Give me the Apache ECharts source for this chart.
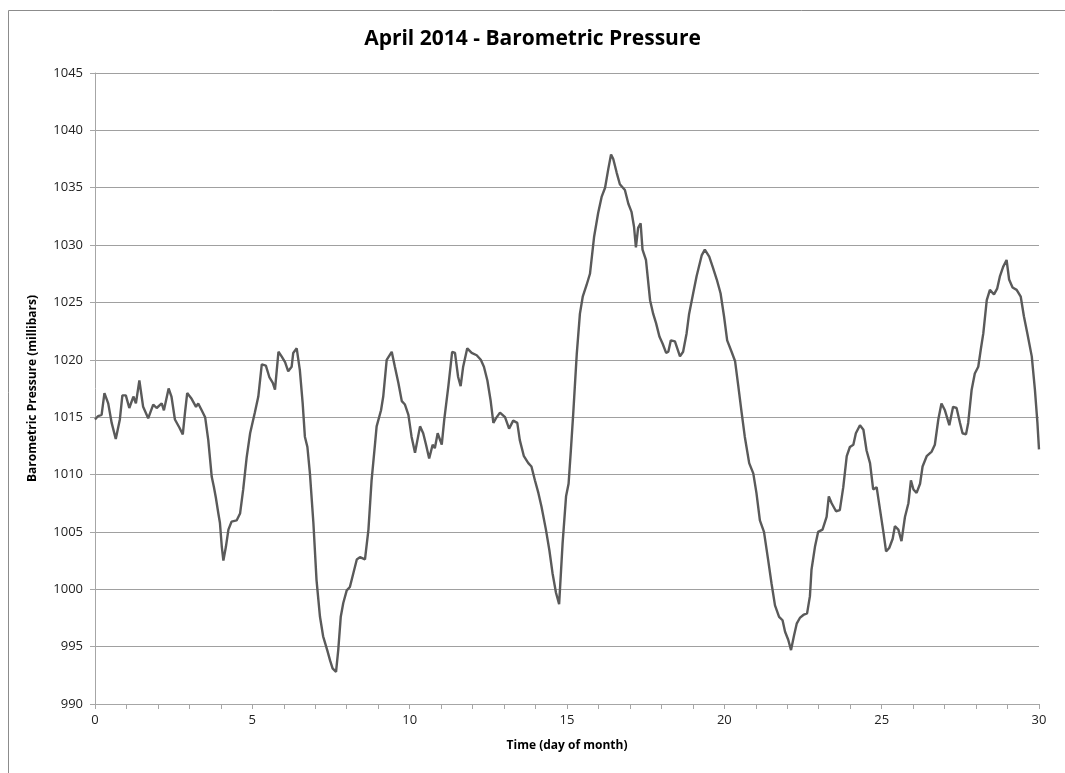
<!DOCTYPE html>
<html>
<head>
<meta charset="utf-8">
<script src="https://cdn.jsdelivr.net/npm/echarts@6/dist/echarts.min.js"></script>
<style>
html,body{margin:0;padding:0;background:#fff;}
#chart{width:1065px;height:773px;}
</style>
</head>
<body>
<div id="chart"></div>
<script>
const days = [0,0.1,0.21,0.3,0.42,0.53,0.66,0.79,0.87,0.98,1.09,1.22,1.3,1.41,1.53,1.69,1.85,1.96,2.12,2.19,2.34,2.43,2.54,2.68,2.79,2.86,2.93,3.07,3.21,3.28,3.39,3.5,3.6,3.71,3.78,3.84,3.92,3.97,4.03,4.08,4.16,4.24,4.34,4.5,4.61,4.71,4.82,4.93,5.08,5.19,5.3,5.43,5.54,5.65,5.72,5.83,5.93,6.04,6.14,6.25,6.3,6.41,6.51,6.6,6.67,6.75,6.83,6.94,7.04,7.15,7.25,7.38,7.47,7.55,7.66,7.73,7.81,7.89,8.0,8.1,8.21,8.32,8.42,8.58,8.69,8.79,8.9,8.95,9.09,9.16,9.27,9.43,9.53,9.64,9.75,9.85,9.96,10.06,10.17,10.33,10.43,10.52,10.62,10.73,10.8,10.89,11.02,11.1,11.23,11.35,11.44,11.54,11.62,11.7,11.83,11.97,12.13,12.26,12.36,12.47,12.57,12.66,12.74,12.87,13.03,13.16,13.29,13.42,13.5,13.63,13.77,13.87,13.98,14.09,14.19,14.33,14.44,14.54,14.65,14.75,14.86,14.97,15.05,15.12,15.2,15.31,15.41,15.5,15.62,15.73,15.86,15.99,16.1,16.21,16.31,16.4,16.47,16.58,16.68,16.84,16.95,17.05,17.13,17.19,17.26,17.34,17.4,17.51,17.64,17.74,17.83,17.94,18.04,18.15,18.22,18.3,18.43,18.59,18.69,18.8,18.88,19.01,19.12,19.28,19.38,19.52,19.63,19.76,19.88,19.99,20.09,20.23,20.34,20.44,20.55,20.65,20.79,20.92,21.02,21.13,21.26,21.39,21.5,21.61,21.74,21.85,21.93,22.03,22.12,22.21,22.3,22.4,22.53,22.63,22.72,22.77,22.88,22.98,23.12,23.25,23.32,23.41,23.55,23.67,23.78,23.89,23.99,24.1,24.18,24.31,24.42,24.52,24.63,24.73,24.84,24.95,25.06,25.14,25.24,25.35,25.42,25.53,25.63,25.74,25.85,25.93,26.01,26.11,26.22,26.3,26.43,26.59,26.69,26.8,26.9,27.01,27.15,27.27,27.38,27.49,27.57,27.68,27.75,27.86,27.96,28.07,28.15,28.23,28.34,28.44,28.57,28.67,28.76,28.86,28.97,29.05,29.16,29.29,29.42,29.52,29.63,29.77,29.87,29.95,30.0];
const pressure = [1014.8,1015.1,1015.2,1017.1,1016.2,1014.5,1013.1,1014.8,1016.9,1016.9,1015.8,1016.8,1016.2,1018.2,1015.9,1014.9,1016.1,1015.8,1016.2,1015.6,1017.5,1016.8,1014.8,1014.1,1013.5,1015.4,1017.1,1016.6,1015.9,1016.2,1015.6,1015.0,1013.0,1009.8,1008.9,1008.0,1006.6,1005.8,1003.7,1002.5,1003.7,1005.2,1005.9,1006.0,1006.6,1008.7,1011.5,1013.6,1015.4,1016.8,1019.6,1019.5,1018.5,1018.0,1017.4,1020.7,1020.3,1019.8,1019.0,1019.4,1020.6,1021.0,1019.1,1016.2,1013.3,1012.4,1010.1,1005.8,1000.8,997.6,995.9,994.7,993.8,993.1,992.8,994.7,997.6,998.8,999.9,1000.2,1001.4,1002.6,1002.8,1002.6,1005.2,1009.5,1012.7,1014.2,1015.6,1016.8,1020.0,1020.7,1019.4,1018.0,1016.4,1016.1,1015.2,1013.3,1011.9,1014.2,1013.6,1012.6,1011.4,1012.6,1012.3,1013.6,1012.6,1014.8,1017.7,1020.7,1020.6,1018.5,1017.7,1019.4,1021.0,1020.6,1020.4,1020.0,1019.4,1018.2,1016.5,1014.5,1014.9,1015.4,1015.0,1014.0,1014.7,1014.5,1013.0,1011.6,1011.0,1010.7,1009.5,1008.4,1007.2,1005.2,1003.4,1001.4,999.7,998.7,1004.0,1008.1,1009.2,1012.0,1015.4,1020.5,1024.0,1025.5,1026.5,1027.5,1030.7,1032.8,1034.2,1035.0,1036.6,1037.9,1037.5,1036.3,1035.3,1034.8,1033.6,1032.9,1031.6,1029.8,1031.5,1031.9,1029.6,1028.7,1025.2,1024.0,1023.2,1022.0,1021.4,1020.6,1020.7,1021.7,1021.6,1020.3,1020.7,1022.3,1024.0,1025.8,1027.3,1029.1,1029.6,1029.0,1028.1,1027.0,1025.8,1023.8,1021.7,1020.7,1019.9,1017.8,1015.4,1013.3,1011.0,1010.1,1008.4,1006.0,1005.0,1002.6,1000.5,998.6,997.6,997.3,996.3,995.6,994.7,995.9,997.0,997.5,997.8,997.9,999.4,1001.7,1003.7,1005.0,1005.2,1006.3,1008.1,1007.5,1006.8,1006.9,1008.9,1011.6,1012.4,1012.6,1013.6,1014.3,1013.9,1012.1,1011.0,1008.7,1008.9,1006.9,1004.9,1003.3,1003.6,1004.4,1005.5,1005.2,1004.2,1006.3,1007.5,1009.5,1008.7,1008.4,1009.2,1010.7,1011.6,1012.0,1012.6,1014.8,1016.2,1015.6,1014.3,1015.9,1015.8,1014.5,1013.6,1013.5,1014.5,1017.4,1018.8,1019.4,1020.9,1022.3,1025.2,1026.1,1025.7,1026.2,1027.3,1028.1,1028.7,1027.0,1026.3,1026.1,1025.5,1023.8,1022.3,1020.3,1017.4,1014.5,1012.2];
const xTicks = [0,5,10,15,20,25,30];
const yTicks = [990,995,1000,1005,1010,1015,1020,1025,1030,1035,1040,1045];

const seriesData = days.map((d, i) => [d, pressure[i]]);
const chart = echarts.init(document.getElementById('chart'));
const FONT = '"Open Sans", "Noto Sans", sans-serif';
chart.setOption({
  animation: false,
  backgroundColor: '#fff',
  graphic: [{
    type: 'rect', left: 6, top: 8,
    shape: { width: 1057, height: 820 },
    style: { fill: 'none', stroke: '#8c8c8c', lineWidth: 1 },
    silent: true
  }],
  title: {
    text: 'April 2014 - Barometric Pressure',
    left: 'center', top: 24,
    textStyle: { fontFamily: FONT, fontWeight: 'bold', fontSize: 21, color: '#000' }
  },
  grid: { left: 95, right: 26, top: 73, bottom: 69, containLabel: false },
  xAxis: {
    type: 'value', min: xTicks[0], max: xTicks[xTicks.length - 1], interval: 1,
    name: 'Time (day of month)', nameLocation: 'middle', nameGap: 36,
    nameTextStyle: { fontFamily: FONT, fontWeight: 'bold', fontSize: 12, color: '#000' },
    axisLine: { lineStyle: { color: '#a6a6a6', width: 1 } },
    axisTick: { show: true, length: 5, lineStyle: { color: '#a6a6a6' } },
    axisLabel: { fontFamily: FONT, fontSize: 13, color: '#222', margin: 10,
      formatter: v => (xTicks.indexOf(v) >= 0 ? String(v) : '') },
    splitLine: { show: false }
  },
  yAxis: {
    type: 'value', min: yTicks[0], max: yTicks[yTicks.length - 1], interval: 5,
    name: 'Barometric Pressure (millibars)', nameLocation: 'middle', nameGap: 56,
    nameTextStyle: { fontFamily: FONT, fontWeight: 'bold', fontSize: 12, color: '#000' },
    axisLine: { show: true, lineStyle: { color: '#a6a6a6', width: 1 } },
    axisTick: { show: true, length: 5, lineStyle: { color: '#a6a6a6' } },
    axisLabel: { fontFamily: FONT, fontSize: 13, color: '#222', margin: 12,
      formatter: v => String(v) },
    splitLine: { show: true, lineStyle: { color: '#a0a0a0', width: 1 } }
  },
  series: [{
    type: 'line', data: seriesData, showSymbol: false, symbol: 'none',
    lineStyle: { color: '#5a5a5a', width: 2.4 }, smooth: false
  }]
});
</script>
</body>
</html>
